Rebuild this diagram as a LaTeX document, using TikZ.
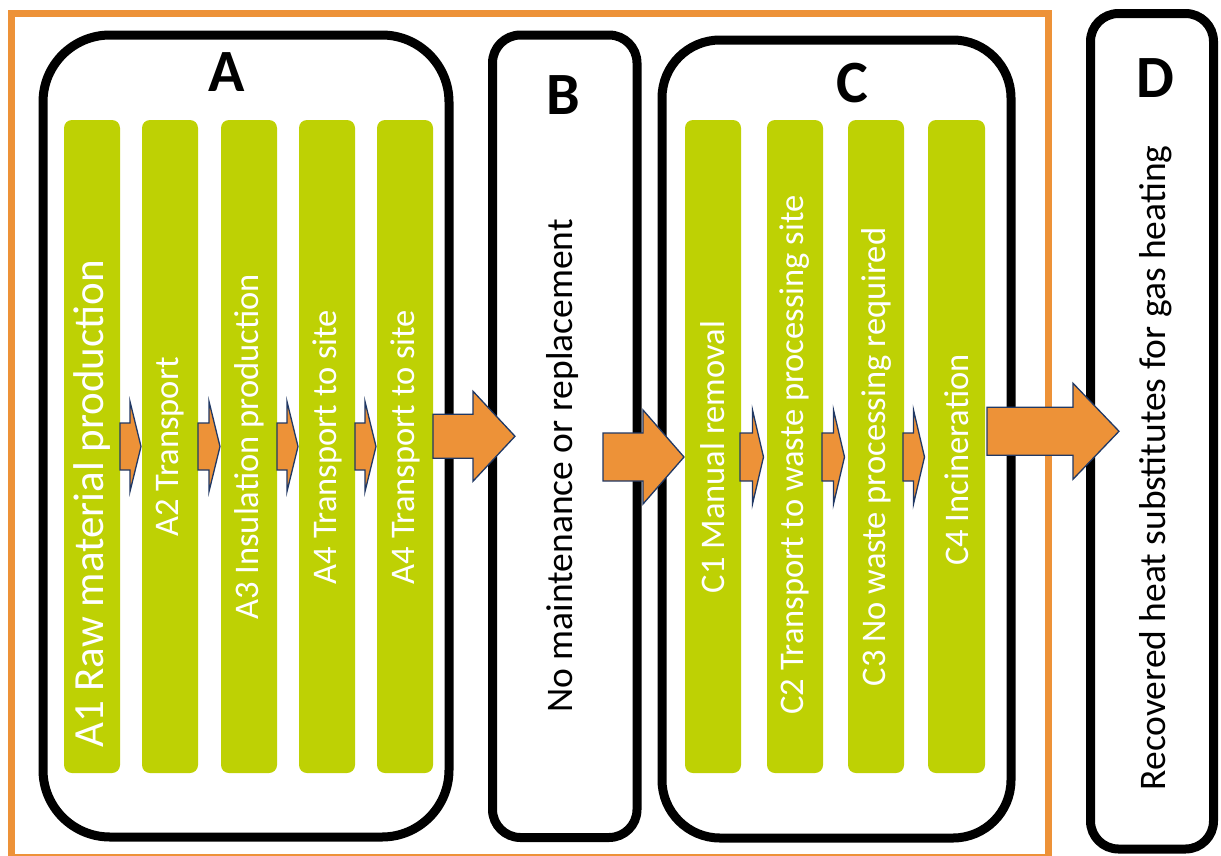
\documentclass[tikz,border=0pt]{standalone}
\usepackage{fontspec}
\setmainfont{Carlito}
\usetikzlibrary{calc}

\definecolor{frameorange}{RGB}{237,146,56}
\definecolor{arrowfill}{RGB}{237,146,56}
\definecolor{arrowedge}{RGB}{32,56,100}
\definecolor{stagegreen}{RGB}{190,209,4}

% Block arrow from the x of #1 to the tip #2; #3 head length,
% #4 half shaft height, #5 half head height (all in pt)
\newcommand\flowarrow[5]{%
  \draw[blockarrow] let \p1=#1, \p2=#2 in
    (\x1,\y2+#4pt) -- (\x2-#3pt,\y2+#4pt) -- (\x2-#3pt,\y2+#5pt) --
    (\x2,\y2) --
    (\x2-#3pt,\y2-#5pt) -- (\x2-#3pt,\y2-#4pt) -- (\x1,\y2-#4pt) -- cycle;}

\begin{document}
\begin{tikzpicture}[x=1pt,y=-1pt,
  frame/.style={draw=frameorange,line width=6.5pt,rectangle,outer sep=0pt,inner sep=0pt},
  stagebox/.style={draw=black,line width=9pt,rectangle,outer sep=0pt,inner sep=0pt},
  stagebar/.style={fill=stagegreen,rectangle,rounded corners=8pt,
    minimum width=56pt,minimum height=653pt,outer sep=0pt,inner sep=0pt},
  bartext/.style={rotate=90,text=white,font=\fontsize{34.5}{40}\selectfont,inner sep=0pt},
  sidetext/.style={rotate=90,text=black,font=\fontsize{37.5}{44}\selectfont,inner sep=0pt},
  stageletter/.style={anchor=base,font=\bfseries\fontsize{60}{70}\selectfont,inner sep=0pt},
  blockarrow/.style={fill=arrowfill,draw=arrowedge,line width=1.3pt,line join=miter}]

\useasboundingbox (0,0) rectangle (1221,855);

% outer frame round stages A to C
\node[frame,minimum width=1037pt,minimum height=843.5pt] (frame) at (530,435.25) {};

% stage boxes
\node[stagebox,rounded corners=67pt,minimum width=406pt,minimum height=802pt] (boxA) at (246,436) {};
\node[stagebox,rounded corners=28pt,minimum width=144.5pt,minimum height=802.5pt] (boxB) at (564.75,436.25) {};
\node[stagebox,rounded corners=58pt,minimum width=349pt,minimum height=798pt] (boxC) at (836.5,439) {};
\node[stagebox,rounded corners=28pt,minimum width=123pt,minimum height=835.5pt] (boxD) at (1152,431.25) {};

% stage letters
\node[stageletter] (labA) at (227,91) {A};
\node[stageletter] (labB) at (563,114) {B};
\node[stageletter] (labC) at (852,102) {C};
\node[stageletter] (labD) at (1155,97) {D};

% module bars of stage A
\node[stagebar] (a1) at (92,446.5) {};
\node[stagebar] (a2) at (170,446.5) {};
\node[stagebar] (a3) at (249,446.5) {};
\node[stagebar] (a4) at (327,446.5) {};
\node[stagebar] (a5) at (405,446.5) {};

% module bars of stage C
\node[stagebar] (c1) at (713,446.5) {};
\node[stagebar] (c2) at (795,446.5) {};
\node[stagebar] (c3) at (876,446.5) {};
\node[stagebar,minimum width=57pt] (c4) at (956.5,446.5) {};

% module labels
\node[bartext,font=\fontsize{43}{50}\selectfont] (ta1) at (92,504) {A1 Raw material production};
\node[bartext] (ta2) at (170,447) {A2 Transport};
\node[bartext] (ta3) at (249,447) {A3 Insulation production};
\node[bartext] (ta4) at (327,447) {A4 Transport to site};
\node[bartext] (ta5) at (405,447) {A4 Transport to site};

\node[bartext] (tc1) at (713,457) {C1 Manual removal};
\node[bartext] (tc2) at (795,455) {C2 Transport to waste processing site};
\node[bartext] (tc3) at (876,457) {C3 No waste processing required};
\node[bartext] (tc4) at (956.5,460) {C4 Incineration};

\node[sidetext] (tb) at (562,466) {No maintenance or replacement};
\node[sidetext] (td) at (1156,468) {Recovered heat substitutes for gas heating};

% flow arrows within stage A
\flowarrow{(a1.east)}{([xshift=-1pt]a2.west)}{11}{23.5}{45}
\flowarrow{(a2.east)}{([xshift=-1pt]a3.west)}{11}{23.5}{45}
\flowarrow{(a3.east)}{([xshift=-1pt]a4.west)}{11}{23.5}{45}
\flowarrow{(a4.east)}{([xshift=-1pt]a5.west)}{11}{23.5}{45}
% A to B
\flowarrow{(a5.east)}{([xshift=22.5pt]boxB.west)}{42}{22}{45}
% B to C
\flowarrow{([xshift=-34pt]boxB.east)}{([xshift=-1pt,yshift=-10.5pt]c1.west)}{41}{24}{47}
% flow arrows within stage C
\flowarrow{([xshift=-1pt]c1.east)}{([xshift=-3.5pt,yshift=-10.5pt]c2.west)}{11}{24}{47}
\flowarrow{([xshift=-1pt]c2.east)}{([xshift=-3.5pt,yshift=-10.5pt]c3.west)}{11}{24}{47}
\flowarrow{([xshift=-1pt]c3.east)}{([xshift=-3.5pt,yshift=-10.5pt]c4.west)}{11}{24}{47}
% C to D
\flowarrow{([xshift=2pt]c4.east)}{([xshift=28.5pt]boxD.west)}{46}{24}{48}
\end{tikzpicture}
\end{document}
